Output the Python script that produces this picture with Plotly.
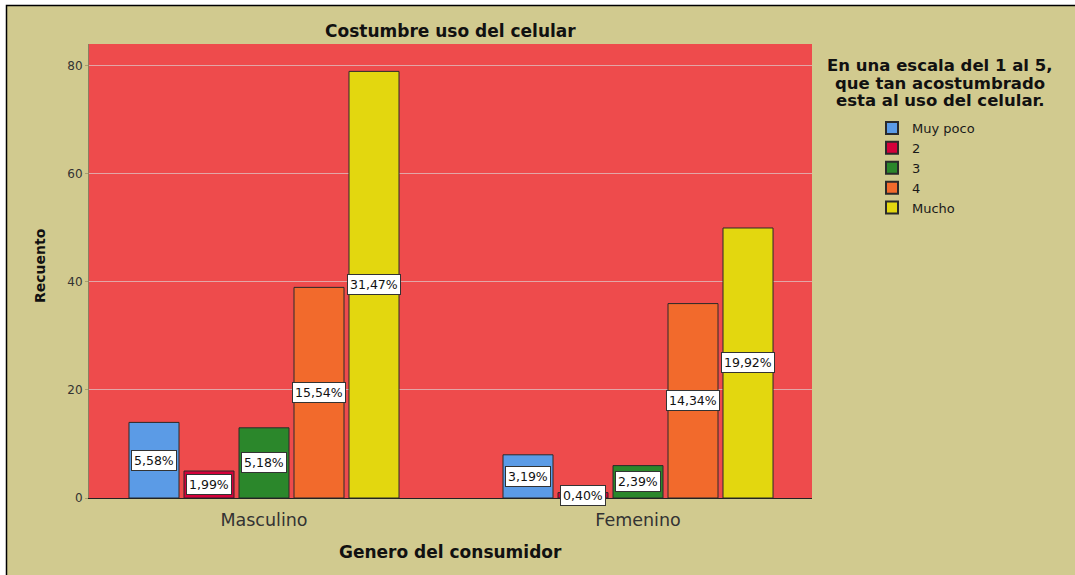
import plotly.graph_objects as go

# ---------------------------------------------------------------------------
# Data
# ---------------------------------------------------------------------------
generos = ["Masculino", "Femenino"]
niveles = ["Muy poco", "2", "3", "4", "Mucho"]
recuento_masculino = [14, 5, 13, 39, 79]
recuento_femenino = [8, 1, 6, 36, 50]
y_ticks = [0, 20, 40, 60, 80]

colores = ["#5B9BE6", "#D4003A", "#2B872B", "#F26A2C", "#E3D70F"]

BEIGE = "#D1CA8F"
ROJO = "#EE4B4C"
FONT = "DejaVu Sans"

total = sum(recuento_masculino) + sum(recuento_femenino)

# plot area in pixels: x 89..812, y 44..498 (1075x575 page)
L, R, T, B = 89, 263, 44, 77
W, H = 1075 - L - R, 575 - T - B

BARGAP = 0.2647
GROUPGAP = 0.0909
slot = (1 - BARGAP) / len(niveles)


def px_x(px):
    return (px - L) / W


def px_y(py):
    return (575 - B - py) / H


fig = go.Figure()
xs = list(range(len(generos)))
annotations = []
for i, nivel in enumerate(niveles):
    vals = [recuento_masculino[i], recuento_femenino[i]]
    fig.add_trace(go.Bar(
        x=xs, y=vals, name=nivel,
        marker=dict(color=colores[i], line=dict(color="#2a2a2a", width=1)),
        hovertemplate=f"{nivel}: %{{y}}<extra></extra>",
    ))
    for xi, v in zip(xs, vals):
        pct = f"{v / total * 100:.2f}".replace(".", ",") + "%"
        annotations.append(dict(
            x=xi + (i - 2) * slot, y=v / 2, xref="x", yref="y",
            text=pct, showarrow=False,
            font=dict(family=FONT, size=12.5, color="#111"),
            bgcolor="white", bordercolor="#333", borderwidth=1, borderpad=2,
        ))

# titles
annotations.append(dict(
    x=0.5, y=px_y(31), xref="paper", yref="paper", text="<b>Costumbre uso del celular</b>",
    showarrow=False, font=dict(family=FONT, size=17, color="#111"), yanchor="middle"))
annotations.append(dict(
    x=0.5, y=px_y(552), xref="paper", yref="paper", text="<b>Genero del consumidor</b>",
    showarrow=False, font=dict(family=FONT, size=17, color="#111"), yanchor="middle"))
annotations.append(dict(
    x=px_x(40), y=px_y(266), xref="paper", yref="paper", text="<b>Recuento</b>",
    textangle=-90, showarrow=False, font=dict(family=FONT, size=14, color="#111"),
    xanchor="center", yanchor="middle"))
# legend title, one line each
for texto, py in [("En una escala del 1 al 5,", 65),
                  ("que tan acostumbrado", 83),
                  ("esta al uso del celular.", 101)]:
    annotations.append(dict(
        x=px_x(940), y=px_y(py), xref="paper", yref="paper", text=f"<b>{texto}</b>",
        showarrow=False, font=dict(family=FONT, size=16.5, color="#111"),
        xanchor="center", yanchor="middle"))

shapes = [
    # beige frame with black left/top edge
    dict(type="rect", xref="paper", yref="paper", layer="below",
         x0=px_x(6.5), x1=px_x(1100), y0=px_y(5.5), y1=px_y(600),
         fillcolor=BEIGE, line=dict(color="black", width=1.5)),
    # red plot area
    dict(type="rect", xref="paper", yref="paper", layer="below",
         x0=0, x1=1, y0=0, y1=1, fillcolor=ROJO, line=dict(width=0)),
]

fig.update_layout(
    width=1075, height=575,
    margin=dict(l=L, r=R, t=T, b=B),
    paper_bgcolor="white", plot_bgcolor="rgba(0,0,0,0)",
    barmode="group", bargap=BARGAP, bargroupgap=GROUPGAP,
    font=dict(family=FONT, color="#222"),
    xaxis=dict(
        range=[-0.4679, 1.4652], tickvals=xs, ticktext=generos,
        tickfont=dict(family=FONT, size=17.5, color="#333"), ticklabelstandoff=6,
        showgrid=False, zeroline=False, showline=True, linecolor="#222", linewidth=1,
        ticks="", fixedrange=True,
    ),
    yaxis=dict(
        range=[0, 84.07], tickvals=y_ticks,
        tickfont=dict(family=FONT, size=12, color="#333"),
        showgrid=True, gridcolor="rgba(220,215,215,0.65)", gridwidth=1,
        zeroline=False, showline=True, linecolor="#8a8060", linewidth=1,
        ticks="outside", ticklen=3, tickcolor="#a89e70",
    ),
    legend=dict(
        x=px_x(872), y=px_y(113), xanchor="left", yanchor="top",
        bgcolor="rgba(0,0,0,0)", font=dict(family=FONT, size=13, color="#1a1a1a"),
        traceorder="normal", itemsizing="constant",
    ),
    showlegend=True,
    annotations=annotations,
    shapes=shapes,
)

fig.write_html("out.html", config={"displayModeBar": False},
               post_script="document.body.style.margin='0';")
